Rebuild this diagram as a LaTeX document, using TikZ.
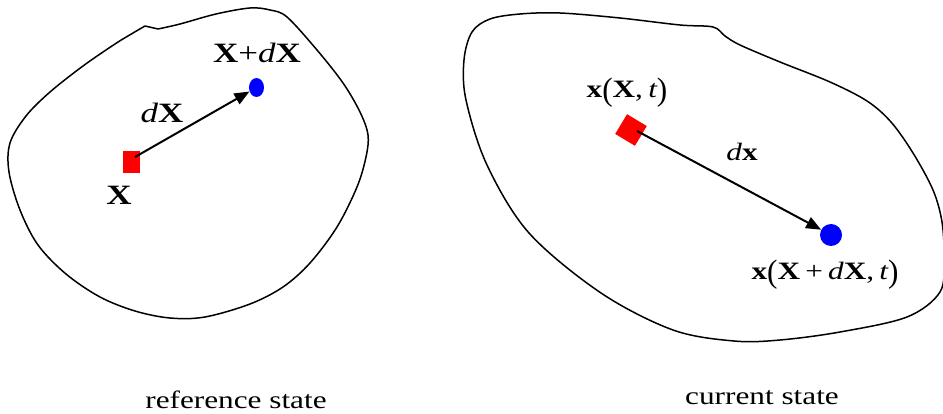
\documentclass[tikz,border=0pt]{standalone}
\usepackage{fontspec}
\usepackage{graphicx}
\setmainfont{Liberation Serif}
\usetikzlibrary{arrows.meta,shapes.geometric}
\newcommand{\hs}[1]{\scalebox{1.25}[1]{#1}}
\newcommand{\bx}{{\bfseries X}}
\newcommand{\sx}{{\bfseries x}}
\newcommand{\lpar}{\raisebox{-0.12em}{\scalebox{1}[1.3]{(}}}
\newcommand{\rpar}{\raisebox{-0.12em}{\scalebox{1}[1.3]{)}}}
\tikzset{
  blob/.style={line width=1.5pt, black, line join=round},
  vec/.style={line width=2pt, -{Triangle[length=15pt,width=12pt]}},
  lblL/.style={inner sep=0pt, font=\fontsize{28}{32}\selectfont},
  lblR/.style={inner sep=0pt, font=\fontsize{25}{30}\selectfont},
  captxt/.style={inner sep=0pt, font=\fontsize{25}{30}\selectfont},
}
\begin{document}
\begin{tikzpicture}[x=1pt,y=-1pt]
\useasboundingbox (0,0) rectangle (943,414);
\begin{scope}
\clip (0,0) rectangle (943,414);
% left body
\draw[blob] plot[smooth, tension=0.55] coordinates {(158,29) (180,24) (216,14) (250,8) (270,10) (287,17) (317,50) (343,83) (360,112) (368,135) (366,157) (357,187) (337,227) (310,263) (283,287) (250,304) (205,317) (170,318) (135,311) (100,297) (66,274) (38,245) (20,210) (9,172) (10,143) (26,116) (50,92) (83,66) (115,44) (133,33) (145,26)} -- cycle;
% right body
\draw[blob] plot[smooth cycle, tension=0.55] coordinates {(680,25) (713,27) (725,36) (740,45) (780,62) (830,82) (867,101) (891,122) (913,153) (933,190) (942,222) (944,258) (940,292) (907,317) (840,332) (780,340) (734,341) (673,330) (601,293) (529,233) (487,165) (466,100) (464,60) (472,32) (490,19) (520,14) (560,13) (620,18)};
\end{scope}
% left points
\node[fill=red, minimum width=17pt, minimum height=22pt, inner sep=0pt] (sqL) at (131,162) {};
\node[fill=blue, ellipse, minimum width=15pt, minimum height=19pt, inner sep=0pt] (dotL) at (256.5,87.5) {};
\coordinate (startL) at (135,157);
\draw[vec] (startL) -- (dotL);
% right points
\node[fill=red, minimum size=23pt, inner sep=0pt, rotate=-31] (sqR) at (631,130) {};
\node[fill=blue, circle, minimum size=22pt, inner sep=0pt] (dotR) at (831,235) {};
\coordinate (startR) at (637,131);
\draw[vec] (startR) -- (dotR);
% labels left
\node[lblL] (lXdX) at (257,53) {\hs{\bx+{\itshape d}\bx}};
\node[lblL] (ldX) at (162,113) {\hs{{\itshape d}\bx}};
\node[lblL] (lX) at (119,195) {\hs{\bx}};
% labels right
\node[lblR] (lxXt) at (627,93) {\hs{\sx\lpar\bx,\,{\itshape t}\rpar}};
\node[lblR] (ldx) at (742,152) {\hs{{\itshape d}\sx}};
\node[lblR] (lxXdXt) at (825,275) {\hs{\sx\lpar\bx\,+\,{\itshape d}\bx,\,{\itshape t}\rpar}};
% captions
\node[captxt] (cref) at (236,400) {\hs{reference state}};
\node[captxt] (ccur) at (762,398) {\hs{current state}};
\end{tikzpicture}
\end{document}
